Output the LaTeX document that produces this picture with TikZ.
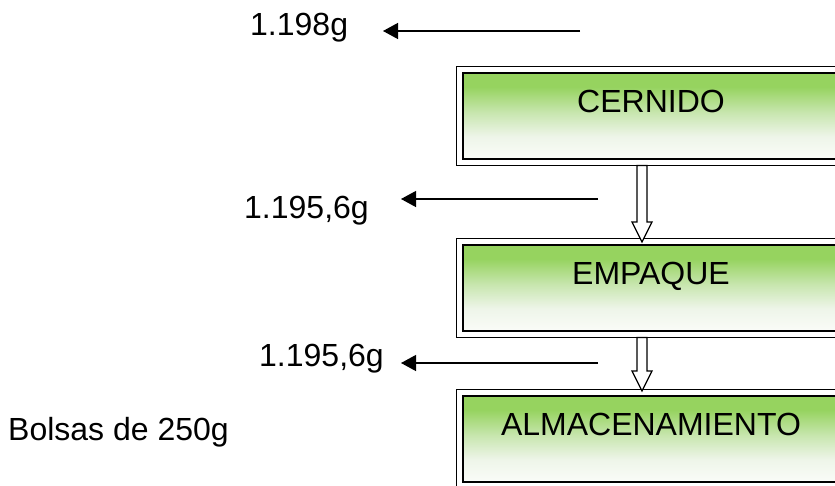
\documentclass[tikz,border=0pt]{standalone}
\usepackage{fontspec}
\setmainfont{Liberation Sans}
\usetikzlibrary{calc,arrows.meta}
\definecolor{stepgreen}{RGB}{150,211,95}
\definecolor{stepmid}{RGB}{200,230,175}
\definecolor{steppale}{RGB}{238,245,233}
\definecolor{stepwhite}{RGB}{250,252,248}
% green at the top of each step, fading to white towards the bottom
\pgfdeclareverticalshading{stepfade}{100bp}{%
  color(0bp)=(stepwhite); color(25bp)=(stepwhite); color(38bp)=(steppale);
  color(52bp)=(stepmid); color(67bp)=(stepgreen); color(100bp)=(stepgreen)}
\tikzset{
  stepbox/.style={rectangle, draw=black, line width=2pt, minimum width=376pt,
    minimum height=86pt, inner sep=0pt, shading=stepfade},
  framebox/.style={draw=black, line width=1.4pt},
  steptext/.style={anchor=base, inner sep=0pt, font=\fontsize{32}{38}\selectfont},
  massnote/.style={anchor=base west, inner sep=0pt, font=\fontsize{32}{38}\selectfont},
  lossarrow/.style={draw=black, line width=1.3pt, -{Triangle[length=15pt,width=16pt]}},
  hollow/.style={draw=black, line width=1.3pt, fill=white}
}
% hollow block arrow pointing down from #1 to the tip #2
\newcommand\blockdown[2]{%
  \draw[hollow] let \p1=(#1), \p2=(#2) in
    (\x1-5pt,\y1) -- (\x1+5pt,\y1) -- (\x1+5pt,\y2+20pt) -- (\x1+10pt,\y2+20pt)
    -- (\x1,\y2) -- (\x1-10pt,\y2+20pt) -- (\x1-5pt,\y2+20pt) -- cycle;}
\begin{document}
\begin{tikzpicture}[x=1pt,y=-1pt]
\useasboundingbox (0,0) rectangle (835,485);

% process steps
\node[stepbox] (cern) at (651,116) {};
\node[stepbox] (emp)  at (651,288) {};
\node[stepbox] (alm)  at (651,439) {};
\foreach \b in {cern,emp,alm}{
  \draw[framebox] ($(\b.south west)+(-5.5pt,-5.5pt)$) rectangle ($(\b.north east)+(5.5pt,5.5pt)$);
}
\node[steptext] (tcern) at ($(cern.north)+(0pt,-40.5pt)$) {CERNIDO};
\node[steptext] (temp)  at ($(emp.north)+(0pt,-40.5pt)$) {EMPAQUE};
\node[steptext] (talm)  at ($(alm.north)+(0pt,-40.5pt)$) {ALMACENAMIENTO};

% flow between steps
\coordinate (f1s) at ($(cern.south west)+(180pt,-5.5pt)$);
\coordinate (f1t) at ($(emp.north west)+(180pt,2pt)$);
\coordinate (f2s) at ($(emp.south west)+(180pt,-5.5pt)$);
\coordinate (f2t) at ($(alm.north west)+(180pt,4pt)$);
\blockdown{f1s}{f1t}
\blockdown{f2s}{f2t}

% masses after each step
\node[massnote] (m1) at (250,35) {1.198g};
\node[massnote] (m2) at (244,218) {1.195,6g};
\node[massnote] (m3) at (259,366) {1.195,6g};
\node[massnote] (bag) at (8,440) {Bolsas de 250g};

\coordinate (a1s) at (580,31);  \coordinate (a1e) at (383,31);
\coordinate (a2s) at (598,199); \coordinate (a2e) at (401,199);
\coordinate (a3s) at (598,363); \coordinate (a3e) at (401,363);
\draw[lossarrow] (a1s) -- (a1e);
\draw[lossarrow] (a2s) -- (a2e);
\draw[lossarrow] (a3s) -- (a3e);
\end{tikzpicture}
\end{document}
